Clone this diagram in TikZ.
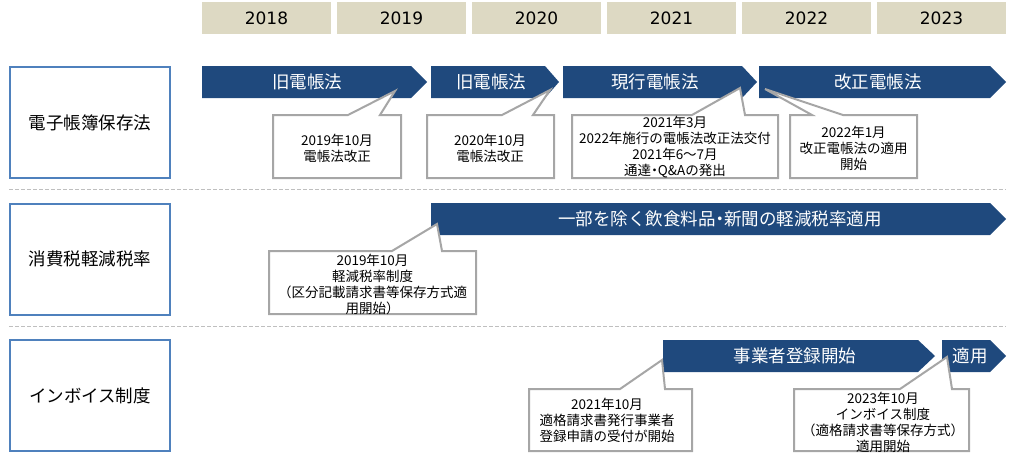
\documentclass[tikz,border=0pt]{standalone}
\usepackage{fontspec}
\setmainfont{Noto Sans CJK JP}
\newfontfamily\yearfont{DejaVu Sans}
\definecolor{beige}{HTML}{DDD9C3}
\definecolor{bandblue}{HTML}{1F497D}
\definecolor{catblue}{HTML}{4F81BD}
\definecolor{callgray}{HTML}{A6A6A6}
\definecolor{sepgray}{HTML}{BFBFBF}
\newcommand{\nkdot}{\hbox to 0.5em{\hss ・\hss}}
\begin{document}
\begin{tikzpicture}[x=1pt,y=-1pt,
  yearbox/.style={fill=beige,minimum width=129pt,minimum height=32pt,inner sep=0pt,font=\yearfont\fontsize{17}{20}\selectfont},
  catbox/.style={draw=catblue,line width=2pt,fill=white,minimum width=160pt,minimum height=111pt,inner sep=0pt,font=\fontsize{17.5}{20}\selectfont},
  bandfill/.style={fill=bandblue},
  bandtext/.style={text=white,inner sep=0pt,font=\fontsize{17.5}{20}\selectfont},
  callshape/.style={draw=callgray,line width=2pt,fill=white,line join=miter},
  calltext/.style={align=center,inner sep=0pt,font=\fontsize{13.5}{16}\selectfont},
  sepline/.style={draw=sepgray,line width=1pt,dash pattern=on 4pt off 2pt}]
\useasboundingbox (0,0) rectangle (1019,453);

% year header
\node[yearbox] (y2018) at (266.5,18) {2018};
\node[yearbox] (y2019) at (401.5,18) {2019};
\node[yearbox] (y2020) at (536.5,18) {2020};
\node[yearbox] (y2021) at (671.5,18) {2021};
\node[yearbox] (y2022) at (806.5,18) {2022};
\node[yearbox] (y2023) at (941.5,18) {2023};

% category boxes
\node[catbox] (cat1) at (90,122.5) {電子帳簿保存法};
\node[catbox] (cat2) at (90,259) {消費税軽減税率};
\node[catbox] (cat3) at (90,395.5) {インボイス制度};

% separators
\coordinate (s1a) at (9,189); \coordinate (s1b) at (1006,189);
\coordinate (s2a) at (9,326); \coordinate (s2b) at (1006,326);
\draw[sepline] (s1a) -- (s1b);
\draw[sepline] (s2a) -- (s2b);

% band arrows row 1
\fill[bandfill] (202,66) -- (411,66) -- (427,82) -- (411,98) -- (202,98) -- cycle;
\fill[bandfill] (431,66) -- (545,66) -- (559,82) -- (545,98) -- (431,98) -- cycle;
\fill[bandfill] (563,66) -- (742,66) -- (757,82) -- (742,98) -- (563,98) -- cycle;
\fill[bandfill] (759,66) -- (990,66) -- (1006,82) -- (990,98) -- (759,98) -- cycle;
\node[bandtext] (b1) at (307,82) {旧電帳法};
\node[bandtext] (b2) at (491,82) {旧電帳法};
\node[bandtext] (b3) at (655,82) {現行電帳法};
\node[bandtext] (b4) at (878,82) {改正電帳法};

% row 2
\fill[bandfill] (431,203) -- (990,203) -- (1006,219) -- (990,235) -- (431,235) -- cycle;
\node[bandtext] (b5) at (720,219) {一部を除く飲食料品\nkdot 新聞の軽減税率適用};

% row 3
\fill[bandfill] (663,340) -- (918,340) -- (935,356) -- (918,372) -- (663,372) -- cycle;
\fill[bandfill] (942,340) -- (990,340) -- (1006,356) -- (990,372) -- (942,372) -- cycle;
\node[bandtext] (b6) at (795,356) {事業者登録開始};
\node[bandtext] (b7) at (970,356) {適用};

% callouts row 1
\draw[callshape] (273,115) -- (348,115) -- (395,91) -- (380,115) -- (401,115) -- (401,178) -- (273,178) -- cycle;
\node[calltext] (t1) at (337,148) {2019年10月\\電帳法改正};
\draw[callshape] (427,115) -- (502,115) -- (550,90) -- (533,115) -- (554,115) -- (554,178) -- (427,178) -- cycle;
\node[calltext] (t2) at (490,148) {2020年10月\\電帳法改正};
\draw[callshape] (572,115) -- (692,115) -- (740,88) -- (745,115) -- (778,115) -- (778,178) -- (572,178) -- cycle;
\node[calltext] (t3) at (675,147.5) {2021年3月\\2022年施行の電帳法改正法交付\\2021年6～7月\\通達\nkdot Q\&Aの発出};
\draw[callshape] (790,115) -- (812,115) -- (765,89) -- (843,115) -- (917,115) -- (917,178) -- (790,178) -- cycle;
\node[calltext] (t4) at (853.5,148) {2022年1月\\改正電帳法の適用\\開始};

% callout row 2
\draw[callshape] (269,251) -- (392,251) -- (437,224) -- (442,251) -- (476,251) -- (476,314) -- (269,314) -- cycle;
\node[calltext] (t5) at (372.5,284) {2019年10月\\軽減税率制度\\（区分記載請求書等保存方式適\\用開始）};

% callouts row 3
\draw[callshape] (529,389) -- (620,389) -- (662,360) -- (665,389) -- (692,389) -- (692,451) -- (529,451) -- cycle;
\node[calltext] (t6) at (607,420) {2021年10月\\適格請求書発行事業者\\登録申請の受付が開始};
\draw[callshape] (794,389) -- (900,389) -- (947,357) -- (952,389) -- (969,389) -- (969,451) -- (794,451) -- cycle;
\node[calltext] (t7) at (883,422.5) {2023年10月\\インボイス制度\\（適格請求書等保存方式）\\適用開始};
\end{tikzpicture}
\end{document}
